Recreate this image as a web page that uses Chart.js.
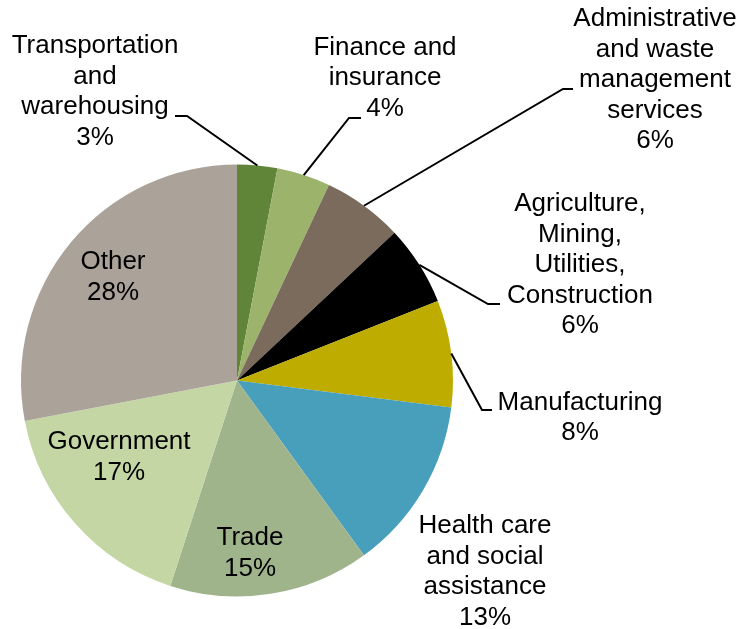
<!DOCTYPE html>
<html>
<head>
<meta charset="utf-8">
<title>Employment by industry</title>
<script src="https://cdn.jsdelivr.net/npm/chart.js@4.4.1/dist/chart.umd.min.js"></script>
<style>
    html, body { margin: 0; padding: 0; background: #ffffff; }
    #wrap { width: 742px; height: 629px; }
</style>
</head>
<body>
<div id="wrap"><canvas id="industryPie" width="742" height="629"></canvas></div>
<script>
// Share of jobs by industry, clockwise from 12 o'clock
const industries = [
    ['Transportation', 'and', 'warehousing'],
    ['Finance and', 'insurance'],
    ['Administrative', 'and waste', 'management', 'services'],
    ['Agriculture,', 'Mining,', 'Utilities,', 'Construction'],
    ['Manufacturing'],
    ['Health care', 'and social', 'assistance'],
    ['Trade'],
    ['Government'],
    ['Other']
];
const shares = [3, 4, 6, 6, 8, 13, 15, 17, 28];
const sliceColors = [
    '#618538', // dark green
    '#9bb36a', // light green
    '#7a6b5c', // brown grey
    '#000000', // black
    '#bead00', // olive yellow
    '#479fbb', // teal
    '#a0b48c', // sage
    '#c5d6a5', // pale green
    '#aba39a'  // taupe
];

// Label placement relative to the pie centre (px): block centre, and
// for outside labels the end of the leader line plus its elbow.
const labelLayout = [
    { dx: -142, dy: -288.5, lead: { x: -62, y: -264.5, elbow: 12 } },
    { dx: 148, dy: -302.5, lead: { x: 124, y: -262.5, elbow: -12 } },
    { dx: 418, dy: -300.5, lead: { x: 336, y: -291.5, elbow: -10 } },
    { dx: 343, dy: -115.5, lead: { x: 263, y: -76.5, elbow: -12 } },
    { dx: 343, dy: 37.5, lead: { x: 255, y: 29.5, elbow: -10 } },
    { dx: 248, dy: 191.5 },
    { dx: 13, dy: 173 },
    { dx: -118, dy: 77 },
    { dx: -124, dy: -103 }
];

const LINE_HEIGHT = 30.5;
const FONT = '26px "Liberation Sans", Arial, sans-serif';

const sliceLabels = {
    id: 'sliceLabels',
    afterDatasetsDraw(chart) {
        const ctx = chart.ctx;
        const arcs = chart.getDatasetMeta(0).data;
        ctx.save();
        ctx.font = FONT;
        ctx.fillStyle = '#000000';
        ctx.textAlign = 'center';
        ctx.textBaseline = 'middle';

        arcs.forEach((arc, i) => {
            const p = arc.getProps(['x', 'y', 'startAngle', 'endAngle', 'outerRadius'], true);
            const layout = labelLayout[i];

            if (layout.lead) {
                const mid = (p.startAngle + p.endAngle) / 2;
                const ex = p.x + Math.cos(mid) * p.outerRadius;
                const ey = p.y + Math.sin(mid) * p.outerRadius;
                const endX = p.x + layout.lead.x;
                const endY = p.y + layout.lead.y;
                ctx.beginPath();
                ctx.strokeStyle = '#000000';
                ctx.lineWidth = 2;
                ctx.moveTo(ex, ey);
                ctx.lineTo(endX + layout.lead.elbow, endY);
                ctx.lineTo(endX, endY);
                ctx.stroke();
            }

            const lines = industries[i].concat([shares[i] + '%']);
            const cx = p.x + layout.dx;
            const top = p.y + layout.dy - (lines.length - 1) * LINE_HEIGHT / 2;
            lines.forEach((line, k) => {
                ctx.fillText(line, cx, top + k * LINE_HEIGHT);
            });
        });
        ctx.restore();
    }
};

new Chart(document.getElementById('industryPie'), {
    type: 'pie',
    data: {
        labels: industries.map(l => l.join(' ')),
        datasets: [{
            data: shares,
            backgroundColor: sliceColors,
            borderWidth: 0,
            hoverOffset: 0
        }]
    },
    options: {
        responsive: false,
        animation: false,
        events: [],
        layout: {
            padding: { left: 21, right: 289, top: 164.5, bottom: 32.5 }
        },
        plugins: {
            legend: { display: false },
            tooltip: { enabled: false }
        }
    },
    plugins: [sliceLabels]
});
</script>
</body>
</html>
